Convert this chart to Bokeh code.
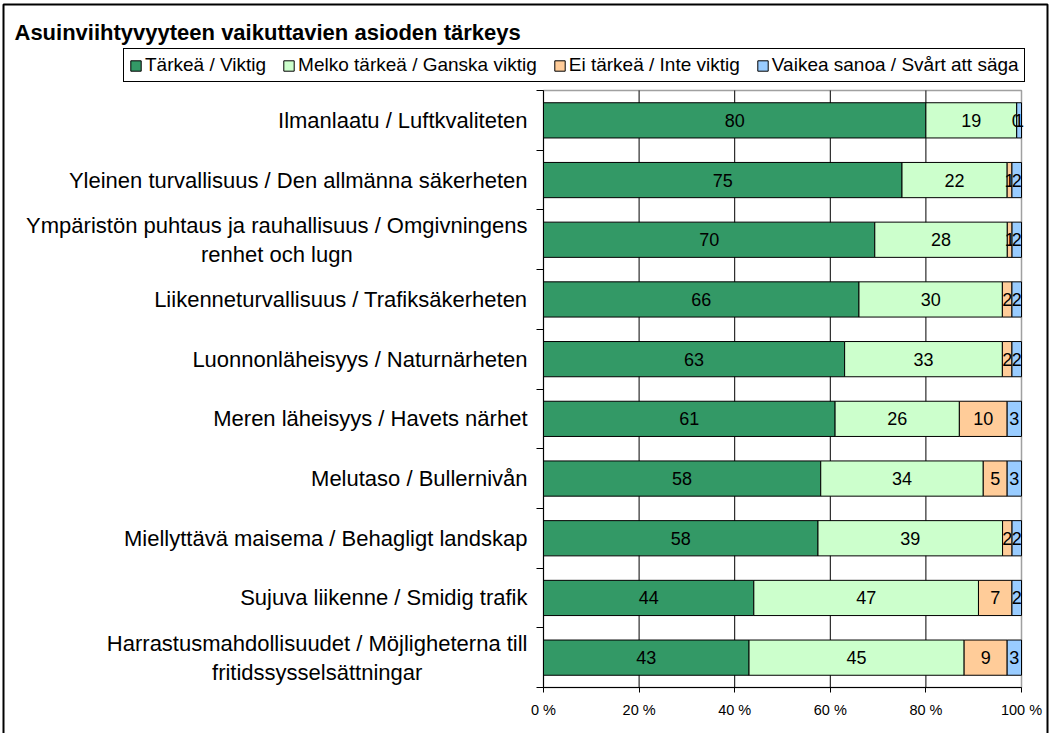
from bokeh.plotting import figure
from bokeh.models import (ColumnDataSource, Range1d, FixedTicker, Legend, LegendItem,
                          Label, BoxAnnotation, CustomJSTickFormatter)
from bokeh.core.properties import value
from bokeh.embed import file_html
from bokeh.resources import INLINE

categories = [
    "Ilmanlaatu / Luftkvaliteten",
    "Yleinen turvallisuus / Den allmänna säkerheten",
    "Ympäristön puhtaus ja rauhallisuus / Omgivningens\nrenhet och lugn",
    "Liikenneturvallisuus / Trafiksäkerheten",
    "Luonnonläheisyys / Naturnärheten",
    "Meren läheisyys / Havets närhet",
    "Melutaso / Bullernivån",
    "Miellyttävä maisema / Behagligt landskap",
    "Sujuva liikenne / Smidig trafik",
    "Harrastusmahdollisuudet / Möjligheterna till\nfritidssysselsättningar",
]
tarkea = [80, 75, 70, 66, 63, 61, 58, 58, 44, 43]
melko = [19, 22, 28, 30, 33, 26, 34, 39, 47, 45]
ei = [0, 1, 1, 2, 2, 10, 5, 2, 7, 9]
vaikea = [1, 2, 2, 2, 2, 3, 3, 2, 2, 3]
series_names = ["Tärkeä / Viktig", "Melko tärkeä / Ganska viktig",
                "Ei tärkeä / Inte viktig", "Vaikea sanoa / Svårt att säga"]
colors = ["#339966", "#CCFFCC", "#FFCC99", "#99CCFF"]
title_text = "Asuinviihtyvyyteen vaikuttavien asioden tärkeys"
x_ticks = [0, 20, 40, 60, 80, 100]

FONT = "Liberation Sans"
n = len(categories)
ys = [n - i for i in range(n)]
series = [tarkea, melko, ei, vaikea]
totals = [sum(s[i] for s in series) for i in range(n)]

# canvas geometry (pixels) -> the frame covers the whole canvas
W, H = 1050, 733
PL, PR = 543.0, 1021.0      # plot area left/right in px
PT, PB = 90.0, 687.0        # plot area top/bottom in px
sx = (PR - PL) / 100.0
sy = (PB - PT) / n
x0 = -PL / sx
x1 = (W - PL) / sx
y_top = (n + 0.5) + PT / sy
y_bot = 0.5 - (H - PB) / sy


def px2x(px):
    return x0 + px / sx


def py2y(py):
    return y_top - py / sy


p = figure(width=W, height=H, output_backend="svg", toolbar_location=None,
           x_range=Range1d(x0, x1), y_range=Range1d(y_bot, y_top),
           min_border=0, min_border_left=0, min_border_right=0,
           min_border_top=0, min_border_bottom=0)
p.outline_line_color = None
p.background_fill_color = "white"
p.border_fill_color = "white"
p.xgrid.visible = False
p.ygrid.visible = False

# plot-area border (grey)
p.add_layout(BoxAnnotation(left=0, right=100, bottom=0.5, top=n + 0.5,
                           fill_alpha=0, line_color="#a0a0a0", line_alpha=1,
                           line_width=1.5, level="underlay"))

# vertical grid lines
gx = x_ticks[1:-1]
p.segment(x0=gx, y0=[0.5] * len(gx), x1=gx, y1=[n + 0.5] * len(gx),
          line_color="black", line_width=1)

renderers = []
left = [0.0] * n
for k, s in enumerate(series):
    l = [left[i] for i in range(n)]
    r = [left[i] + s[i] * 100.0 / totals[i] for i in range(n)]
    src = ColumnDataSource(dict(y=ys, left=l, right=r,
                                mid=[(a + b) / 2 for a, b in zip(l, r)],
                                lab=[str(v) for v in s]))
    rr = p.hbar(y="y", left="left", right="right", height=0.59, source=src,
                fill_color=colors[k], line_color="black", line_width=1)
    renderers.append(rr)
    p.text(x="mid", y="y", text="lab", source=src, text_align="center",
           text_baseline="middle", text_font=value(FONT), text_font_size="18px",
           text_color="black")
    left = r

# category labels (right-anchored block, lines centred)
cat_src = ColumnDataSource(dict(x=[px2x(527)] * n, y=ys, t=categories))
p.text(x="x", y="y", text="t", source=cat_src, anchor="center_right",
       text_align="center", text_font=value(FONT), text_font_size="22px",
       text_color="black", text_line_height=1.15)

# axes at fixed locations
xa = p.xaxis[0]
xa.fixed_location = 0.5
xa.bounds = (0, 100)
xa.ticker = FixedTicker(ticks=x_ticks)
xa.formatter = CustomJSTickFormatter(code="return tick + ' %';")
xa.major_label_text_font = FONT
xa.major_label_text_font_size = "14.5px"
xa.major_label_text_color = "black"
xa.major_tick_in = 0
xa.major_tick_out = 5
xa.major_tick_line_color = "black"
xa.minor_tick_line_color = None
xa.axis_line_color = "black"
xa.major_label_standoff = 9

ya = p.yaxis[0]
ya.fixed_location = 0
ya.bounds = (0.5, n + 0.5)
ya.ticker = FixedTicker(ticks=[], minor_ticks=[i + 0.5 for i in range(n + 1)])
ya.major_label_text_font_size = "0px"
ya.major_tick_line_color = None
ya.minor_tick_in = 0
ya.minor_tick_out = 7
ya.minor_tick_line_color = "black"
ya.axis_line_color = "black"

# legend
items = [LegendItem(label=nm, renderers=[r]) for nm, r in zip(series_names, renderers)]
leg = Legend(items=items, orientation="horizontal", location=(123, H - 82),
             label_text_font=FONT, label_text_font_size="19px",
             label_text_color="black",
             glyph_width=13, glyph_height=13, label_standoff=3, spacing=16,
             padding=5, margin=0, border_line_color="black", border_line_alpha=1,
             border_line_width=1, background_fill_alpha=1,
             label_height=19)
p.add_layout(leg, "center")

# title
p.add_layout(Label(x=px2x(14), y=py2y(32), text=title_text, text_font=FONT,
                   text_font_size="22px", text_font_style="bold",
                   text_color="black", text_baseline="middle"))

# outer chart border
p.add_layout(BoxAnnotation(left=px2x(3), right=px2x(1047), top=py2y(4),
                           bottom=py2y(H + 20), fill_alpha=0, line_color="black",
                           line_alpha=1, line_width=2))

open("out.html", "w").write(file_html(p, INLINE))
